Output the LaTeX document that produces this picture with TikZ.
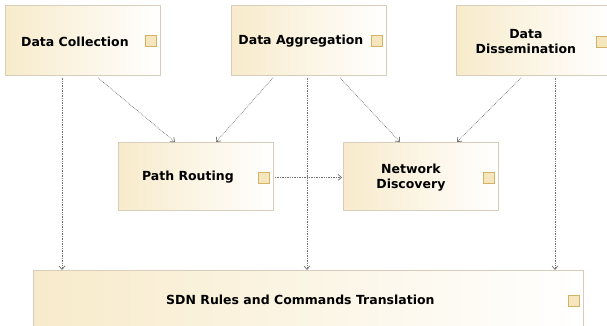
\documentclass[tikz,border=0pt]{standalone}
\usepackage{fontspec}
\setmainfont{DejaVu Sans}
\usetikzlibrary{arrows.meta,calc}
\definecolor{boxleft}{RGB}{248,235,203}
\definecolor{boxborder}{RGB}{214,206,186}
\definecolor{iconfill}{RGB}{245,230,190}
\definecolor{iconborder}{RGB}{212,178,100}
\definecolor{linkcol}{RGB}{115,115,115}
\begin{document}
\begin{tikzpicture}[x=1pt,y=-1pt,
  box/.style={draw=boxborder, line width=0.8pt, left color=boxleft, right color=white,
    rectangle, anchor=north west, inner sep=0pt, minimum width=155pt, minimum height=70pt},
  icon/.style={draw=iconborder, fill=iconfill, line width=0.8pt, rectangle,
    minimum size=11pt, inner sep=0pt},
  lbl/.style={font=\fontsize{12.5}{14.5}\selectfont\bfseries, align=center, inner sep=0pt},
  link/.style={draw=linkcol, densely dotted, line width=0.7pt,
    -{Straight Barb[length=3.5pt,width=6pt]}}]
\clip (0,0) rectangle (607,326);
% boxes
\node[box] (dc) at (5,5) {};
\node[box] (da) at (231,5) {};
\node[box] (dd) at (456,5) {};
\node[box, minimum height=68pt] (pr) at (118,142) {};
\node[box, minimum height=68pt] (nd) at (343,142) {};
\node[box, minimum width=550pt, minimum height=58pt] (sdn) at (33,270) {};
% icons
\node[icon] (dci) at ([xshift=-10pt,yshift=-1pt]dc.east) {};
\node[icon] (dai) at ([xshift=-10pt,yshift=-1pt]da.east) {};
\node[icon] (ddi) at ([xshift=-10pt,yshift=-2pt]dd.east) {};
\node[icon] (pri) at ([xshift=-10pt,yshift=-1pt]pr.east) {};
\node[icon] (ndi) at ([xshift=-10pt,yshift=-1pt]nd.east) {};
\node[icon] (sdni) at ([xshift=-10pt,yshift=-1pt]sdn.east) {};
% labels
\node[lbl] (dct) at ([xshift=-8pt,yshift=-1pt]dc.center) {Data Collection};
\node[lbl] (dat) at ([xshift=-8pt,yshift=-1pt]da.center) {Data Aggregation};
\node[lbl] (ddt) at ([xshift=-8pt,yshift=-1pt]dd.center) {Data\\Dissemination};
\node[lbl] (prt) at ([xshift=-8pt,yshift=-1pt]pr.center) {Path Routing};
\node[lbl] (ndt) at ([xshift=-10pt,yshift=-1pt]nd.center) {Network\\Discovery};
\node[lbl] (sdnt) at ([xshift=-8pt]sdn.center) {SDN Rules and Commands Translation};
% connectors
\coordinate (c1) at ($(dc.south west)+(57,2)$);
\coordinate (c2) at ($(dc.south west)+(93,2)$);
\coordinate (c3) at ($(da.south west)+(42,2)$);
\coordinate (c4) at ($(da.south west)+(76,2)$);
\coordinate (c5) at ($(da.south west)+(109,2)$);
\coordinate (c6) at ($(dd.south west)+(65,2)$);
\coordinate (c7) at ($(dd.south west)+(99,2)$);
\coordinate (e2) at ($(pr.north west)+(57,0)$);
\coordinate (e3) at ($(pr.north west)+(98,0)$);
\coordinate (e5) at ($(nd.north west)+(57,0)$);
\coordinate (e6) at ($(nd.north west)+(114,0)$);
\coordinate (p1) at ($(pr.east)+(1,1)$);
\coordinate (p2) at ($(nd.west)+(-1,1)$);
\draw[link] (c1) -- (c1 |- sdn.north);
\draw[link] (c2) -- (e2);
\draw[link] (c3) -- (e3);
\draw[link] (c4) -- (c4 |- sdn.north);
\draw[link] (c5) -- (e5);
\draw[link] (c6) -- (e6);
\draw[link] (c7) -- (c7 |- sdn.north);
\draw[link] (p1) -- (p2);
\end{tikzpicture}
\end{document}
